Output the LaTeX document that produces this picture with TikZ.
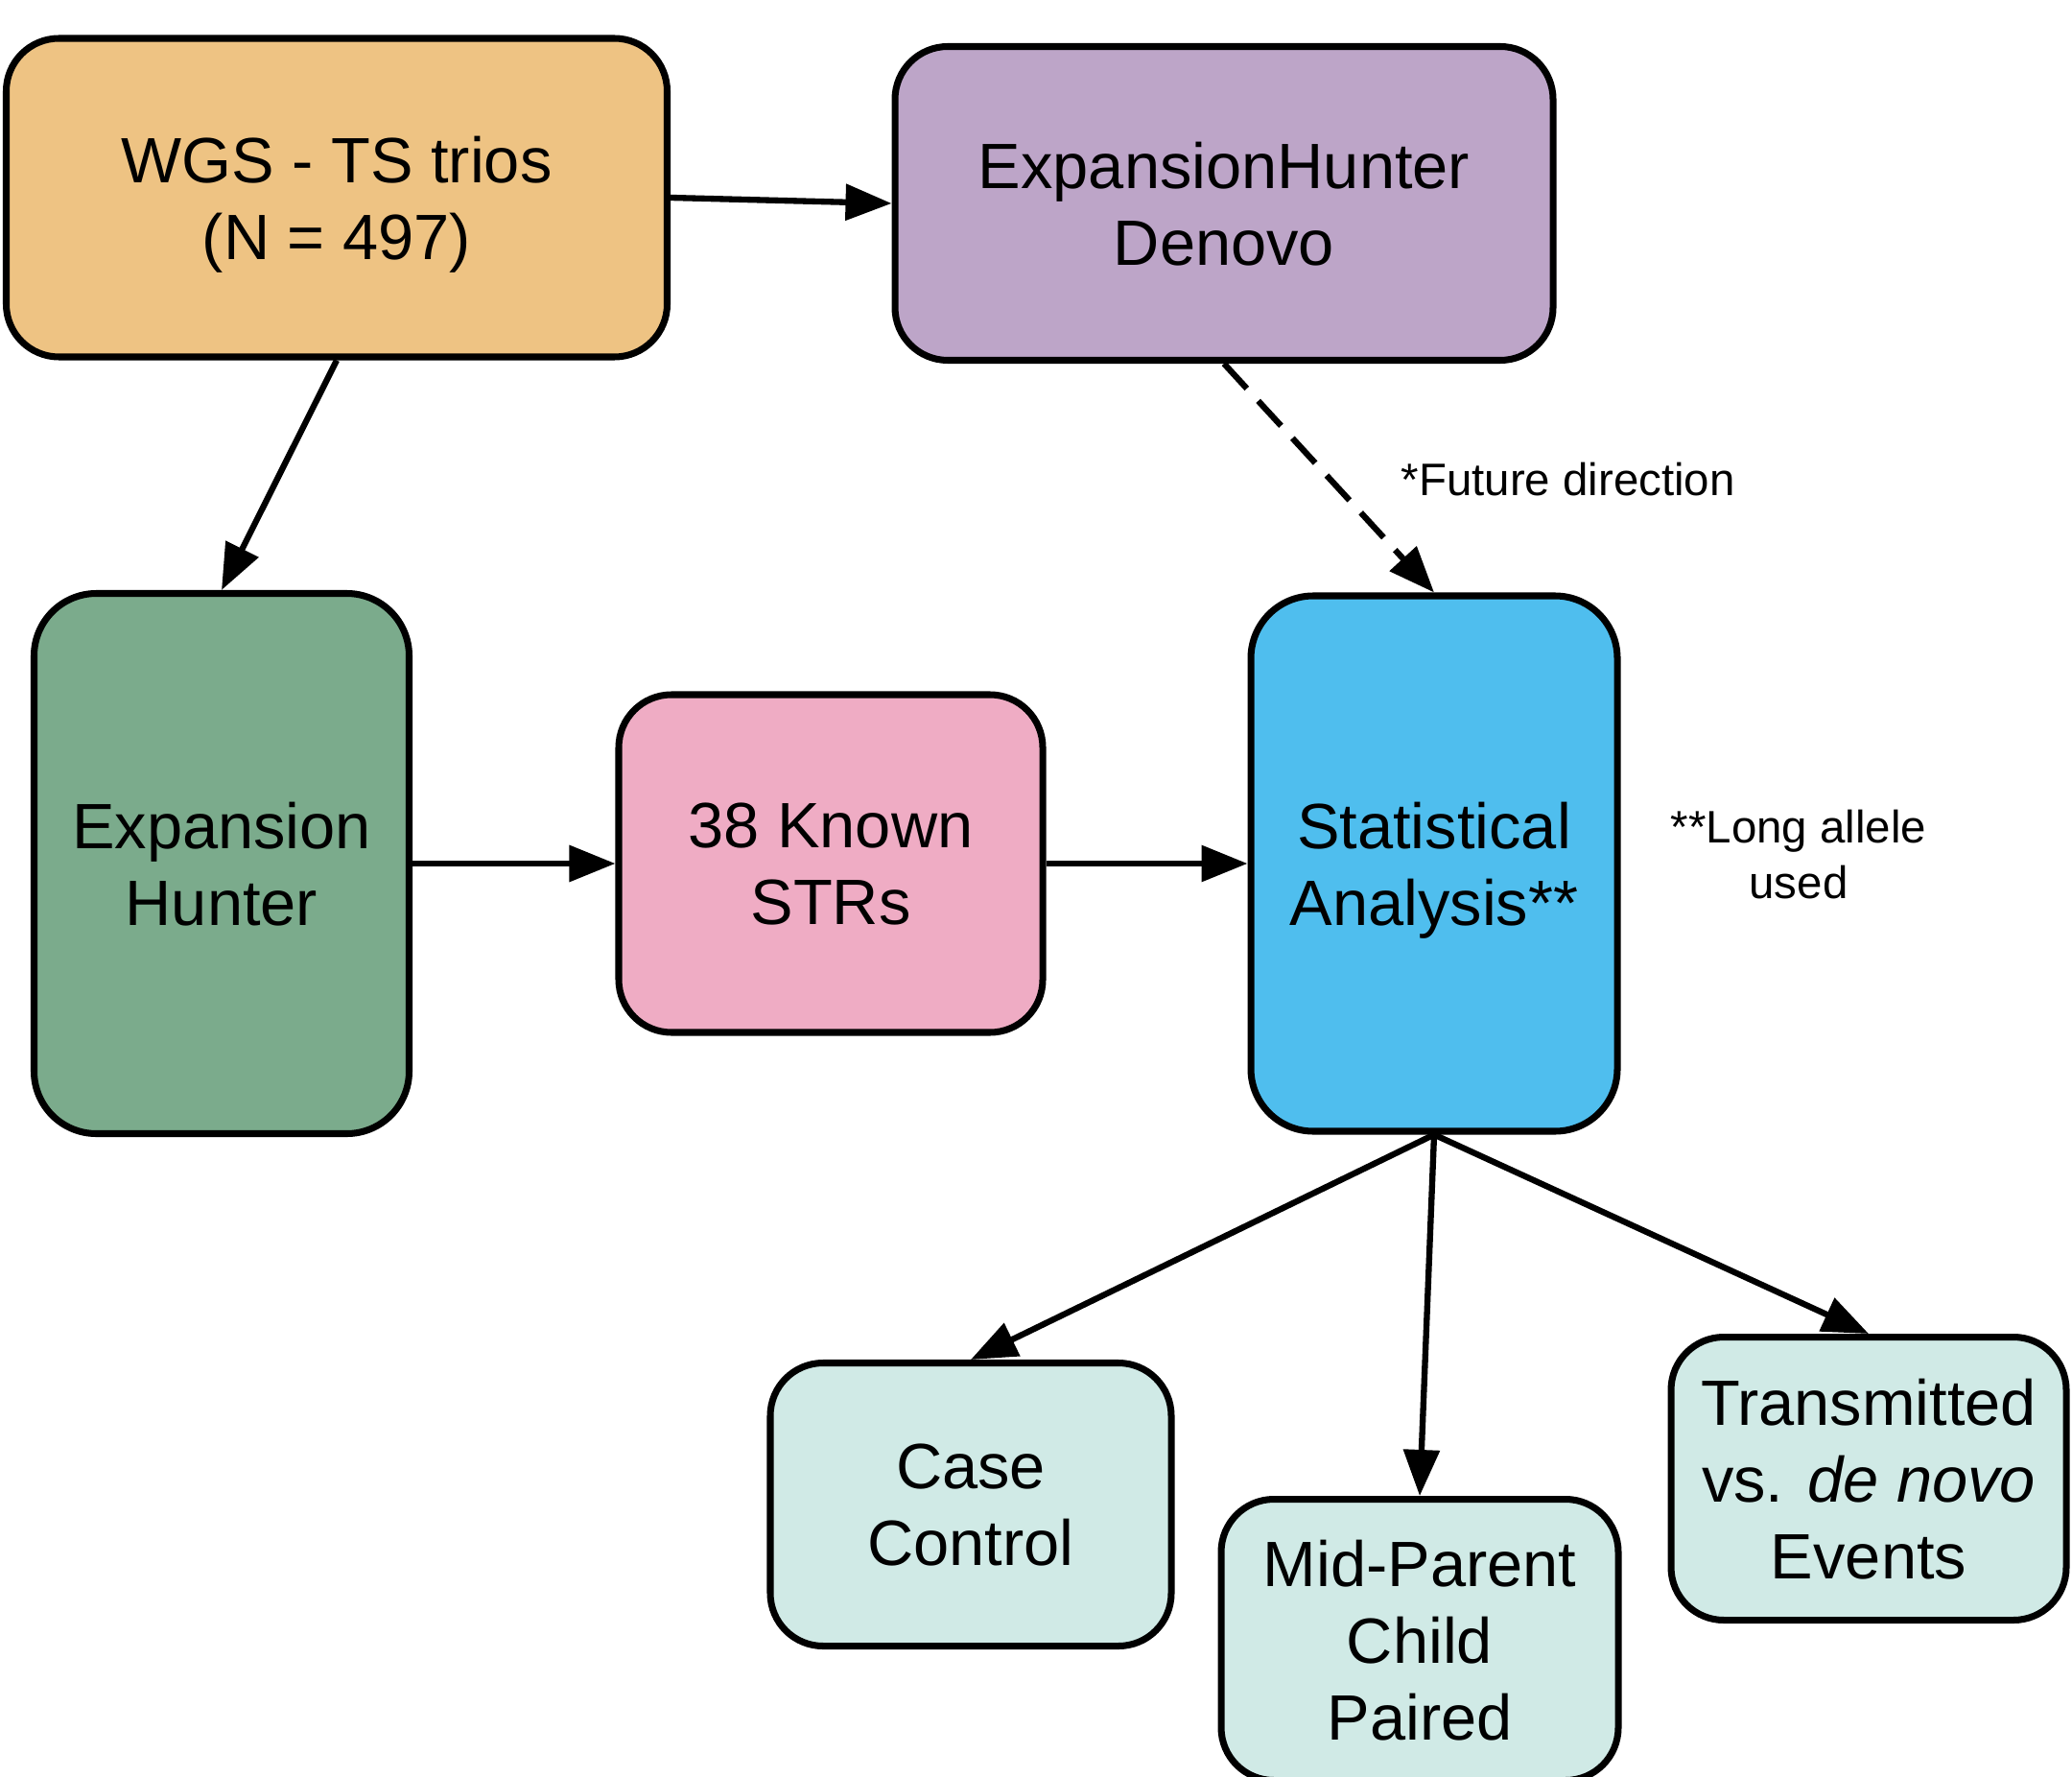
\documentclass[tikz,border=0pt]{standalone}
\usepackage{fontspec}
\setmainfont{Liberation Sans}
\usepackage{xcolor}
\usepackage{tikz}
\usetikzlibrary{arrows.meta}
\definecolor{wgsorange}{HTML}{EEC383}
\definecolor{denovopurple}{HTML}{BDA5C8}
\definecolor{ehgreen}{HTML}{7BAB8C}
\definecolor{strpink}{HTML}{EFACC4}
\definecolor{statblue}{HTML}{4FBEEE}
\definecolor{testteal}{HTML}{D0EAE6}

\begin{document}
\begin{tikzpicture}[
    box/.style={draw,line width=2pt,rounded corners=0.55cm,align=center,inner sep=0pt,text depth=0pt,
      font=\fontsize{19}{22.8}\selectfont},
    note/.style={align=center,inner sep=0pt,font=\fontsize{13.5}{16.5}\selectfont},
    flow/.style={line width=1.8pt,-{Triangle[length=4.8mm,width=3.7mm]}}
  ]
    \useasboundingbox (0,0) rectangle (21.6,-18.51);
    \node[box,fill=wgsorange,minimum width=6.89cm,minimum height=3.32cm] (wgs) at (3.51,-2.06) {WGS - TS trios\\(N = 497)};
    \node[box,fill=denovopurple,minimum width=6.86cm,minimum height=3.27cm] (denovo) at (12.76,-2.12) {ExpansionHunter\\Denovo};
    \node[box,fill=ehgreen,rounded corners=0.65cm,minimum width=3.91cm,minimum height=5.63cm] (eh) at (2.31,-9.00) {Expansion\\Hunter};
    \node[box,fill=strpink,minimum width=4.42cm,minimum height=3.52cm] (strs) at (8.66,-9.00) {38 Known\\STRs};
    \node[box,fill=statblue,rounded corners=0.65cm,minimum width=3.82cm,minimum height=5.58cm] (stat) at (14.95,-9.00) {Statistical\\Analysis**};
    \node[box,fill=testteal,minimum width=4.18cm,minimum height=2.95cm] (cc) at (10.12,-15.68) {Case\\Control};
    \node[box,fill=testteal,minimum width=4.14cm,minimum height=2.93cm] (mid) at (14.80,-17.09) {Mid-Parent\\Child\\Paired};
    \node[box,fill=testteal,minimum width=4.12cm,minimum height=2.95cm] (tr) at (19.48,-15.41) {Transmitted\\vs. \textit{de novo}\\Events};
    \node[note,anchor=west] (future) at (14.60,-5.00) {*Future direction};
    \node[note] (allele) at (18.75,-8.91) {**Long allele\\used};

    \draw[flow] (wgs.east) -- (denovo.west);
    \draw[flow] (wgs.south) -- (eh.north);
    \draw[flow,dash pattern=on 10pt off 5pt] (denovo.south) -- (stat.north);
    \draw[flow] (eh.east) -- (strs.west);
    \draw[flow] (strs.east) -- (stat.west);
    \draw[flow] (stat.south) -- (cc.north);
    \draw[flow] (stat.south) -- (mid.north);
    \draw[flow] (stat.south) -- (tr.north);
  \end{tikzpicture}
\end{document}
